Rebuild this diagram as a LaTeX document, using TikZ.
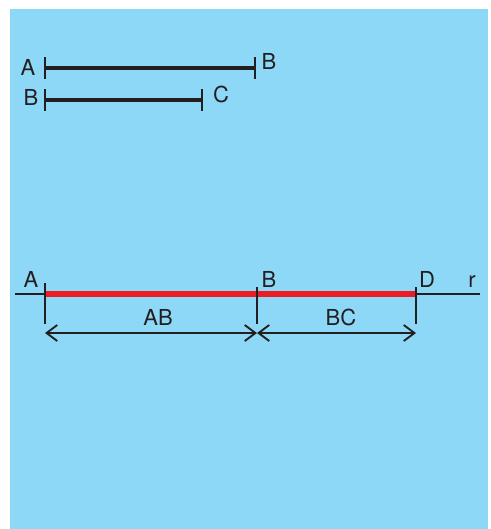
\documentclass[tikz,border=0pt]{standalone}
\usepackage{fontspec}
\setmainfont{TeX Gyre Heros}
\usepackage{tikz}
\usetikzlibrary{positioning, arrows.meta, calc}

\definecolor{bgblue}{RGB}{141,216,247}
\definecolor{segred}{RGB}{237,28,36}
\definecolor{inkblack}{RGB}{35,31,32}

\begin{document}
\begin{tikzpicture}[
                x=0.75pt, y=-0.75pt,
                seg/.style={draw=inkblack, line width=2.7pt},
                segtick/.style={draw=inkblack, line width=1.9pt},
                rline/.style={draw=inkblack, line width=1.4pt},
                redseg/.style={draw=segred, line width=4.2pt},
                thin/.style={draw=inkblack, line width=1pt},
                dimarrow/.style={draw=inkblack, line width=1.4pt, {Straight Barb[length=8pt, width=12pt]}-{Straight Barb[length=8pt, width=12pt]}},
                ptlabel/.style={text=inkblack, anchor=base, inner sep=0pt, font=\fontsize{16.5}{19}\selectfont}
            ]

            % Hintergrund
            \useasboundingbox (0,0) rectangle (491,529);
            \fill[bgblue] (10,9) rectangle (488,529);

            % Strecken oben
            \coordinate (tA) at (45,68);
            \coordinate (tB) at (255,68);
            \coordinate (sB) at (45,100);
            \coordinate (sC) at (202,100);
            \draw[seg] (tA) -- (tB);
            \draw[seg] (sB) -- (sC);
            \foreach \p in {tA, tB, sB, sC}
                \draw[segtick] ([yshift=-8]\p) -- ([yshift=8]\p);
            \node[ptlabel] (lA1) at (28,75) {A};
            \node[ptlabel] (lB1) at (269,69) {B};
            \node[ptlabel] (lB2) at (31,105) {B};
            \node[ptlabel] (lC2) at (221,102) {C};

            % Gerade r
            \coordinate (rL) at (15,294);
            \coordinate (rR) at (480,294);
            \coordinate (pA) at (45,294);
            \coordinate (pB) at (257,294);
            \coordinate (pD) at (416,294);
            \draw[rline] (rL) -- (rR);
            \draw[redseg] (pA) -- (pD);
            \draw[segtick] ([yshift=-9]pA) -- ([yshift=8]pA);
            \draw[segtick] ([yshift=-9]pB) -- ([yshift=5]pB);
            \draw[segtick] ([yshift=-9]pD) -- ([yshift=5]pD);
            \node[ptlabel] (lA) at (31,287) {A};
            \node[ptlabel] (lB) at (269,287) {B};
            \node[ptlabel] (lD) at (427,287) {D};
            \node[ptlabel] (lr) at (472,287) {r};

            % Masslinien
            \coordinate (mA) at (45,333);
            \coordinate (mB) at (257,333);
            \coordinate (mD) at (416,333);
            \draw[thin] (pA) -- ([yshift=7]mA);
            \draw[thin] (pB) -- ([yshift=7]mB);
            \draw[thin] (pD) -- ([yshift=7]mD);
            \draw[dimarrow] (mA) -- (mB);
            \draw[dimarrow] (mB) -- (mD);
            \node[ptlabel] (lAB) at (158,325) {AB};
            \node[ptlabel] (lBC) at (341,325) {BC};

        \end{tikzpicture}
\end{document}
